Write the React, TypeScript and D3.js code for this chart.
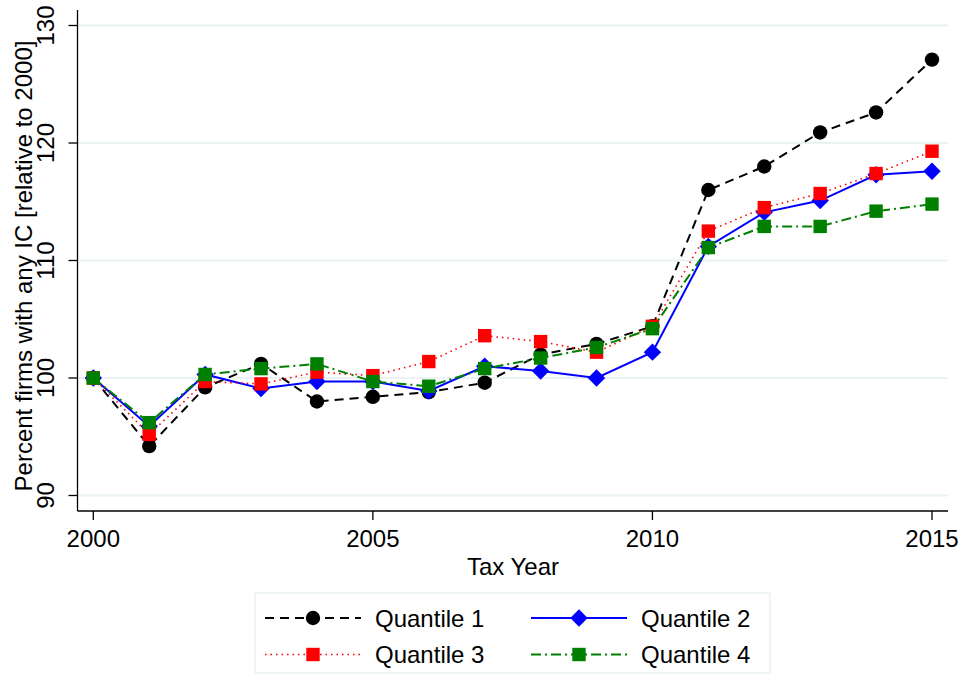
import React from "react";
import * as d3 from "d3";

const years = [2000, 2001, 2002, 2003, 2004, 2005, 2006, 2007, 2008, 2009, 2010, 2011, 2012, 2013, 2014, 2015];
const quantile1 = [100, 94.2, 99.2, 101.2, 98.0, 98.4, 98.8, 99.6, 102.0, 102.9, 104.4, 116.0, 118.0, 120.9, 122.6, 127.1];
const quantile2 = [100, 95.9, 100.3, 99.1, 99.7, 99.7, 98.9, 101.0, 100.6, 100.0, 102.2, 111.2, 114.1, 115.1, 117.3, 117.6];
const quantile3 = [100, 95.2, 99.7, 99.5, 100.5, 100.2, 101.4, 103.6, 103.1, 102.2, 104.4, 112.5, 114.5, 115.7, 117.4, 119.3];
const quantile4 = [100, 96.2, 100.3, 100.8, 101.2, 99.7, 99.3, 100.8, 101.7, 102.6, 104.2, 111.1, 112.9, 112.9, 114.2, 114.8];
const xTicks = [2000, 2005, 2010, 2015];
const yTicks = [90, 100, 110, 120, 130];
const seriesNames = ["Quantile 1", "Quantile 2", "Quantile 3", "Quantile 4"];

type Marker = "circle" | "diamond" | "square";
const series = [
  { name: seriesNames[0], values: quantile1, color: "#000000", dash: "9,6", width: 2, marker: "circle" as Marker },
  { name: seriesNames[1], values: quantile2, color: "#0000ff", dash: "", width: 2, marker: "diamond" as Marker },
  { name: seriesNames[2], values: quantile3, color: "#ff0000", dash: "1.5,4", width: 1.6, marker: "square" as Marker },
  { name: seriesNames[3], values: quantile4, color: "#008000", dash: "10,4,2,4", width: 2, marker: "square" as Marker },
];

const FONT = "'Liberation Sans', Arial, Helvetica, sans-serif";

function MarkerShape({ type, x, y, color }: { type: Marker; x: number; y: number; color: string }) {
  if (type === "circle") return <circle cx={x} cy={y} r={7.2} fill={color} />;
  if (type === "square") return <rect x={x - 6.7} y={y - 6.7} width={13.4} height={13.4} fill={color} />;
  const r = 8.7;
  return <path d={`M${x},${y - r}L${x + r},${y}L${x},${y + r}L${x - r},${y}Z`} fill={color} />;
}

export default function App() {
  const W = 963;
  const H = 677;
  const left = 77.5;
  const right = 948;
  const top = 10;
  const bottom = 511;

  const x = d3.scaleLinear().domain([2000, 2015]).range([93.3, 932]);
  const y = d3.scaleLinear().domain([90, 130]).range([495.5, 25.5]);

  const line = d3
    .line<number>()
    .x((_, i) => x(years[i]))
    .y((v) => y(v));

  const legendItems = [
    { s: series[0], lx: 265, ly: 618 },
    { s: series[1], lx: 531, ly: 618 },
    { s: series[2], lx: 265, ly: 654.5 },
    { s: series[3], lx: 531, ly: 654.5 },
  ];

  return (
    <svg
      width={W}
      height={H}
      viewBox={`0 0 ${W} ${H}`}
      style={{ position: "absolute", left: 0, top: 0, background: "#fff" }}
      fontFamily={FONT}
    >
      <rect x={0} y={0} width={W} height={H} fill="#fff" />
      {/* grid */}
      {yTicks.map((t) => (
        <line key={`g${t}`} x1={left} x2={right} y1={y(t)} y2={y(t)} stroke="#eaf2f3" strokeWidth={2} />
      ))}
      {/* axes */}
      <line x1={left} x2={left} y1={top} y2={bottom} stroke="#000" strokeWidth={1.3} />
      <line x1={left} x2={right} y1={bottom} y2={bottom} stroke="#000" strokeWidth={1.3} />
      {yTicks.map((t) => (
        <g key={`y${t}`}>
          <line x1={left - 9} x2={left} y1={y(t)} y2={y(t)} stroke="#000" strokeWidth={1.3} />
          <text
            transform={`translate(${left - 23.5},${y(t)}) rotate(-90)`}
            textAnchor="middle"
            fontSize={24}
            fill="#000"
          >
            {t}
          </text>
        </g>
      ))}
      {xTicks.map((t) => (
        <g key={`x${t}`}>
          <line x1={x(t)} x2={x(t)} y1={bottom} y2={bottom + 9} stroke="#000" strokeWidth={1.3} />
          <text x={x(t)} y={547} textAnchor="middle" fontSize={24} fill="#000">
            {t}
          </text>
        </g>
      ))}
      <text x={513} y={575} textAnchor="middle" fontSize={24} fill="#000">
        Tax Year
      </text>
      <text
        transform={`translate(32,266) rotate(-90)`}
        textAnchor="middle"
        fontSize={24}
        fill="#000"
      >
        Percent firms with any IC [relative to 2000]
      </text>
      {/* series */}
      {series.map((s) => (
        <g key={s.name}>
          <path
            d={line(s.values) || ""}
            fill="none"
            stroke={s.color}
            strokeWidth={s.width}
            strokeDasharray={s.dash || undefined}
          />
          {s.values.map((v, i) => (
            <MarkerShape key={i} type={s.marker} x={x(years[i])} y={y(v)} color={s.color} />
          ))}
        </g>
      ))}
      {/* legend */}
      <rect x={255} y={593} width={515} height={80} fill="#fff" stroke="#eaf2f3" strokeWidth={1.5} />
      {legendItems.map(({ s, lx, ly }) => (
        <g key={`l${s.name}`}>
          <line
            x1={lx}
            x2={lx + 96}
            y1={ly}
            y2={ly}
            stroke={s.color}
            strokeWidth={s.width}
            strokeDasharray={s.dash || undefined}
          />
          <MarkerShape type={s.marker} x={lx + 48} y={ly} color={s.color} />
          <text x={lx + 110} y={ly + 8.5} fontSize={24} fill="#000">
            {s.name}
          </text>
        </g>
      ))}
    </svg>
  );
}
